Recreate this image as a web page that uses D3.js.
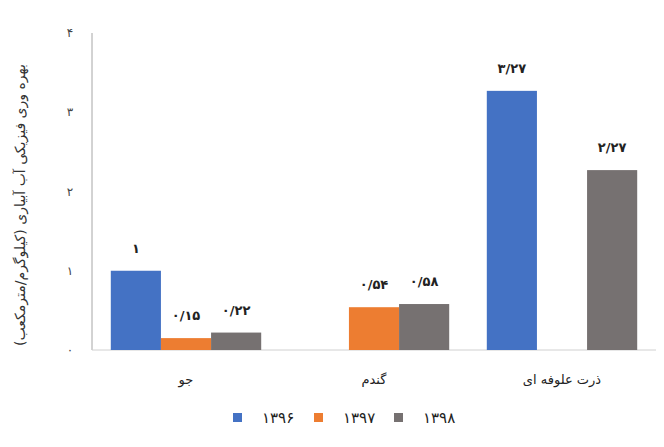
<!DOCTYPE html>
<html><head><meta charset="utf-8">
<script src="https://cdn.jsdelivr.net/npm/d3@7"></script>
<style>body{margin:0;background:#fff;} svg{display:block;}</style>
</head><body>
<svg id="c" width="664" height="447"></svg>
<script>
const categories = ["جو", "گندم", "ذرت علوفه ای"];
const seriesNames = ["1396", "1397", "1398"];
const values1396 = [1, null, 3.27];
const values1397 = [0.15, 0.54, null];
const values1398 = [0.22, 0.58, 2.27];
const yTicks = [0, 1, 2, 3, 4];
const colors = ["#4472C4", "#ED7D31", "#767171"];
const yTitle = "بهره وری فیزیکی آب آبیاری (کیلوگرم/مترمکعب)";

const allValues = [values1396, values1397, values1398];
const fa = s => String(s).replace(/[0-9]/g, d => "۰۱۲۳۴۵۶۷۸۹"[+d]).replace(".", "/");
const font = "'DejaVu Sans', sans-serif";

const svg = d3.select("#c");
const pLeft = 92, pRight = 656, pTop = 33, pBottom = 350;

const x0 = d3.scaleBand().domain(categories).range([pLeft, pRight]).paddingInner(0.2).paddingOuter(0.1);
const x1 = d3.scaleBand().domain(seriesNames).range([0, x0.bandwidth()]);
const y = d3.scaleLinear().domain([0, 4]).range([pBottom, pTop]);

// axes lines
svg.append("line").attr("x1", pLeft).attr("x2", pLeft).attr("y1", pTop).attr("y2", pBottom)
  .attr("stroke", "#a6a6a6").attr("stroke-width", 1);
svg.append("line").attr("x1", pLeft).attr("x2", pRight).attr("y1", pBottom).attr("y2", pBottom)
  .attr("stroke", "#d0d0d0").attr("stroke-width", 1);

// y ticks
svg.append("g").selectAll("text").data(yTicks).join("text")
  .attr("x", 70).attr("y", d => y(d)).attr("dy", "0.35em")
  .attr("text-anchor", "middle").attr("font-family", font).attr("font-size", 12)
  .attr("fill", "#444").text(d => fa(d));

// y title
svg.append("text").attr("transform", `translate(25,${205}) rotate(-90)`)
  .attr("text-anchor", "middle").attr("direction", "rtl").attr("font-family", font)
  .attr("font-size", 14).attr("fill", "#333").text(yTitle);

// bars
const data = [];
categories.forEach((c, i) => seriesNames.forEach((s, j) => {
  const v = allValues[j][i];
  if (v != null) data.push({ c, s, v, j });
}));

svg.append("g").selectAll("rect").data(data).join("rect")
  .attr("x", d => x0(d.c) + x1(d.s)).attr("width", x1.bandwidth())
  .attr("y", d => y(d.v)).attr("height", d => y(0) - y(d.v))
  .attr("fill", d => colors[d.j]);

svg.append("g").selectAll("text").data(data).join("text")
  .attr("x", d => x0(d.c) + x1(d.s) + x1.bandwidth() / 2)
  .attr("y", d => y(d.v) - 18)
  .attr("text-anchor", "middle").attr("font-family", font).attr("font-size", 13)
  .attr("font-weight", "bold").attr("fill", "#222")
  .text(d => fa(d.v));

// category labels
svg.append("g").selectAll("text").data(categories).join("text")
  .attr("x", d => x0(d) + x0.bandwidth() / 2).attr("y", 384)
  .attr("text-anchor", "middle").attr("direction", "rtl").attr("font-family", font)
  .attr("font-size", 13).attr("fill", "#222").text(d => d);

// legend
const legX = [233, 314, 394];
const lg = svg.append("g").selectAll("g").data(seriesNames).join("g")
  .attr("transform", (d, i) => `translate(${legX[i]},413)`);
lg.append("rect").attr("width", 9).attr("height", 9).attr("fill", (d, i) => colors[i]);
lg.append("text").attr("x", 29).attr("y", 5).attr("dy", "0.35em")
  .attr("font-family", font).attr("font-size", 15).attr("fill", "#222").text(d => fa(d));
</script>
</body></html>
